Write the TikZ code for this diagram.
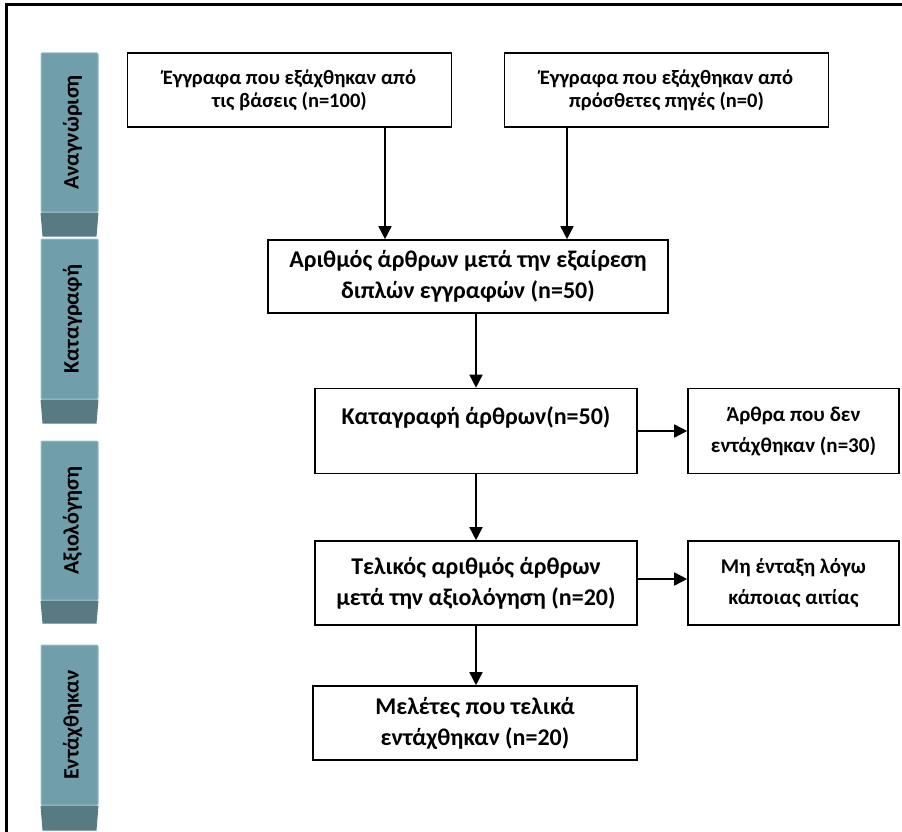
\documentclass[tikz,border=0pt]{standalone}
\usepackage{fontspec}
\setmainfont{Carlito}
\usetikzlibrary{arrows.meta,calc,positioning}
\definecolor{tabfill}{RGB}{112,158,170}
\definecolor{tabedge}{RGB}{150,192,202}
\definecolor{tabdark}{RGB}{88,122,130}

\begin{document}
\begin{tikzpicture}[
    x=1pt,
    y=-1pt,
    >={Triangle[length=13pt,width=13pt]},
    box/.style={draw, line width=1.6pt, align=center, inner sep=2pt, font=\fontsize{24}{31}\selectfont\bfseries},
    topbox/.style={box, minimum width=324pt, minimum height=74pt, font=\fontsize{20.5}{23}\selectfont\bfseries},
    sidebox/.style={box, minimum width=211pt, minimum height=85pt, font=\fontsize{21}{31}\selectfont\bfseries},
    tab/.style={fill=tabfill, draw=tabedge, line width=1pt, minimum width=57pt, inner sep=0pt, rounded corners=1pt},
    tablabel/.style={rotate=90, font=\fontsize{22}{26}\selectfont\bfseries},
    line/.style={->, line width=1.6pt}
]
\useasboundingbox (0,0) rectangle (902,832);
\draw[line width=3pt] (6,840) -- (6,5) -- (910,5);

% stage tabs
\node[tab, minimum height=159pt] (tab1) at (69.5,132.5) {};
\node[tab, minimum height=160pt] (tab2) at (69.5,319) {};
\node[tab, minimum height=159pt] (tab3) at (69.5,520.5) {};
\node[tab, minimum height=160pt] (tab4) at (69.5,725) {};
\fill[tabdark] (tab1.south west) -- (tab1.south east) -- ++(-2,24) -- ($(tab1.south west)+(2,24)$) -- cycle;
\fill[tabdark] (tab2.south west) -- (tab2.south east) -- ++(-2,24) -- ($(tab2.south west)+(2,24)$) -- cycle;
\fill[tabdark] (tab3.south west) -- (tab3.south east) -- ++(-2,23) -- ($(tab3.south west)+(2,23)$) -- cycle;
\fill[tabdark] (tab4.south west) -- (tab4.south east) -- ++(-2,25) -- ($(tab4.south west)+(2,25)$) -- cycle;
\node[tablabel] (lbl1) at ([xshift=3pt]tab1.center) {Αναγνώριση};
\node[tablabel] (lbl2) at ([xshift=3pt]tab2.center) {Καταγραφή};
\node[tablabel] (lbl3) at ([xshift=3pt]tab3.center) {Αξιολόγηση};
\node[tablabel] (lbl4) at ([xshift=3pt]tab4.center) {Εντάχθηκαν};

% flow boxes
\node[topbox] (db) at (289.5,90) {Έγγραφα που εξάχθηκαν από\\τις βάσεις (n=100)};
\node[topbox] (extra) at (666.5,90) {Έγγραφα που εξάχθηκαν από\\πρόσθετες πηγές (n=0)};
\node[box, minimum width=400pt, minimum height=73pt] (dedup) at (468,276.5) {Αριθμός άρθρων μετά την εξαίρεση\\διπλών εγγραφών (n=50)};
\node[box, minimum width=322pt, minimum height=85pt] (record) at (476,431) {Καταγραφή άρθρων(n=50)\\\mbox{}};
\node[sidebox] (excl) at (793.5,431) {Άρθρα που δεν\\εντάχθηκαν (n=30)};
\node[box, minimum width=322pt, minimum height=84pt] (final) at (476,583) {Τελικός αριθμός άρθρων\\μετά την αξιολόγηση (n=20)};
\node[sidebox, minimum height=84pt] (reason) at (793.5,583) {Μη ένταξη λόγω\\κάποιας αιτίας};
\node[box, minimum width=324pt, minimum height=74pt] (incl) at (475,723) {Μελέτες που τελικά\\εντάχθηκαν (n=20)};

\draw[line] ([xshift=95.5pt]db.south) -- ([xshift=95.5pt]db.south |- dedup.north);
\draw[line] ([xshift=-99.5pt]extra.south) -- ([xshift=-99.5pt]extra.south |- dedup.north);
\draw[line] (record.north |- dedup.south) -- (record.north);
\draw[line] (record) -- (final);
\draw[line] (final.south) -- (final.south |- incl.north);
\draw[line] (record.east) -- (excl.west);
\draw[line] ([yshift=4pt]final.east) -- ([yshift=4pt]reason.west);
\end{tikzpicture}
\end{document}
